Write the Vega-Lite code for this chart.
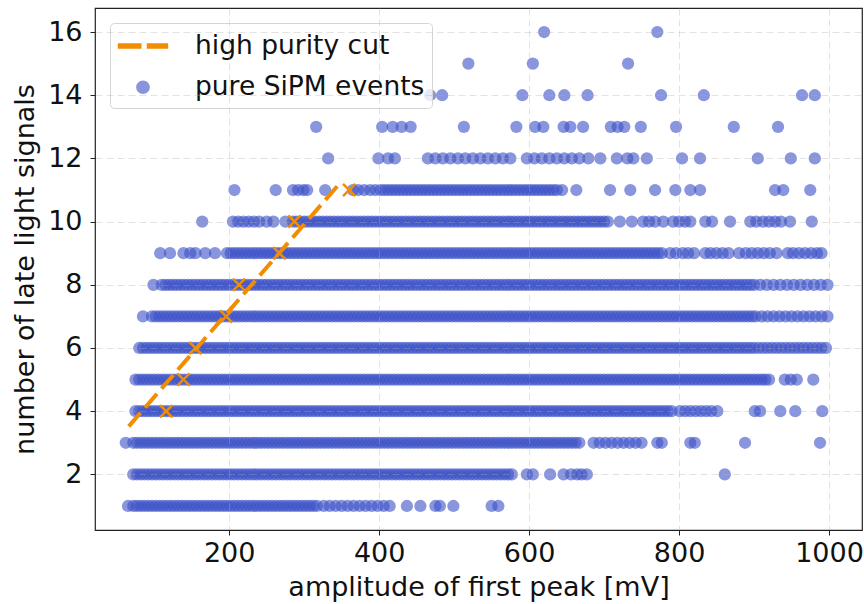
{
"$schema":"https://vega.github.io/schema/vega-lite/v6.json",
"width":767,"height":522,
"autosize":{"type":"none"},
"padding":{"left":95,"top":8,"right":2,"bottom":74},
"config":{"view":{"stroke":"#222222","strokeWidth":1.2},"font":"DejaVu Sans",
 "legend":{"orient":"none","legendX":15,"legendY":15,"padding":7,"symbolOffset":10,"labelOffset":36,"rowPadding":14,"labelLimit":600,"labelFont":"DejaVu Sans","labelFontSize":26.5,"labelColor":"#111111","fillColor":"rgba(255,255,255,0.8)","strokeColor":"#d5d5d5","cornerRadius":4}},
"datasets":{
"cut":[{"a":66,"n":3.52},{"a":347,"n":11.2}],
"marks":[{"a":116,"n":4},{"a":139,"n":5},{"a":155,"n":6},{"a":196,"n":7},{"a":213,"n":8},{"a":267,"n":9},{"a":287,"n":10},{"a":360,"n":11}],
"pts":[
{"a":65,"n":1},{"a":72,"n":1},{"a":77,"n":1},{"a":82,"n":1},{"a":87,"n":1},{"a":92,"n":1},{"a":97,"n":1},{"a":102,"n":1},{"a":107,"n":1},{"a":112,"n":1},{"a":117,"n":1},{"a":122,"n":1},{"a":127,"n":1},{"a":132,"n":1},{"a":137,"n":1},{"a":142,"n":1},{"a":147,"n":1},{"a":152,"n":1},{"a":157,"n":1},{"a":162,"n":1},{"a":167,"n":1},{"a":172,"n":1},{"a":177,"n":1},{"a":182,"n":1},{"a":187,"n":1},{"a":192,"n":1},{"a":197,"n":1},{"a":202,"n":1},{"a":207,"n":1},{"a":212,"n":1},{"a":217,"n":1},{"a":222,"n":1},{"a":227,"n":1},{"a":232,"n":1},{"a":237,"n":1},{"a":242,"n":1},{"a":247,"n":1},{"a":252,"n":1},{"a":257,"n":1},{"a":262,"n":1},{"a":267,"n":1},{"a":272,"n":1},{"a":277,"n":1},{"a":282,"n":1},{"a":287,"n":1},{"a":292,"n":1},{"a":297,"n":1},{"a":302,"n":1},{"a":307,"n":1},{"a":312,"n":1},{"a":317,"n":1},{"a":326,"n":1},{"a":334,"n":1},{"a":342,"n":1},{"a":350,"n":1},{"a":358,"n":1},{"a":366,"n":1},{"a":374,"n":1},{"a":382,"n":1},{"a":390,"n":1},{"a":398,"n":1},{"a":406,"n":1},{"a":414,"n":1},{"a":437,"n":1},{"a":455,"n":1},{"a":475,"n":1},{"a":481,"n":1},{"a":499,"n":1},{"a":550,"n":1},{"a":559,"n":1},
{"a":72,"n":2},{"a":77,"n":2},{"a":82,"n":2},{"a":87,"n":2},{"a":92,"n":2},{"a":97,"n":2},{"a":102,"n":2},{"a":107,"n":2},{"a":112,"n":2},{"a":117,"n":2},{"a":122,"n":2},{"a":127,"n":2},{"a":132,"n":2},{"a":137,"n":2},{"a":142,"n":2},{"a":147,"n":2},{"a":152,"n":2},{"a":157,"n":2},{"a":162,"n":2},{"a":167,"n":2},{"a":172,"n":2},{"a":177,"n":2},{"a":182,"n":2},{"a":187,"n":2},{"a":192,"n":2},{"a":197,"n":2},{"a":202,"n":2},{"a":207,"n":2},{"a":212,"n":2},{"a":217,"n":2},{"a":222,"n":2},{"a":227,"n":2},{"a":232,"n":2},{"a":237,"n":2},{"a":242,"n":2},{"a":247,"n":2},{"a":252,"n":2},{"a":257,"n":2},{"a":262,"n":2},{"a":267,"n":2},{"a":272,"n":2},{"a":277,"n":2},{"a":282,"n":2},{"a":287,"n":2},{"a":292,"n":2},{"a":297,"n":2},{"a":302,"n":2},{"a":307,"n":2},{"a":312,"n":2},{"a":317,"n":2},{"a":322,"n":2},{"a":327,"n":2},{"a":332,"n":2},{"a":337,"n":2},{"a":342,"n":2},{"a":347,"n":2},{"a":352,"n":2},{"a":357,"n":2},{"a":362,"n":2},{"a":367,"n":2},{"a":372,"n":2},{"a":377,"n":2},{"a":382,"n":2},{"a":387,"n":2},{"a":392,"n":2},{"a":397,"n":2},{"a":402,"n":2},{"a":407,"n":2},{"a":412,"n":2},{"a":417,"n":2},{"a":422,"n":2},{"a":427,"n":2},{"a":432,"n":2},{"a":437,"n":2},{"a":442,"n":2},{"a":447,"n":2},{"a":452,"n":2},{"a":457,"n":2},{"a":462,"n":2},{"a":467,"n":2},{"a":472,"n":2},{"a":477,"n":2},{"a":482,"n":2},{"a":487,"n":2},{"a":492,"n":2},{"a":497,"n":2},{"a":502,"n":2},{"a":507,"n":2},{"a":512,"n":2},{"a":517,"n":2},{"a":522,"n":2},{"a":527,"n":2},{"a":532,"n":2},{"a":537,"n":2},{"a":542,"n":2},{"a":547,"n":2},{"a":552,"n":2},{"a":557,"n":2},{"a":562,"n":2},{"a":567,"n":2},{"a":572,"n":2},{"a":577,"n":2},{"a":597,"n":2},{"a":605,"n":2},{"a":628,"n":2},{"a":646,"n":2},{"a":656,"n":2},{"a":664,"n":2},{"a":670,"n":2},{"a":677,"n":2},{"a":861,"n":2},
{"a":62,"n":3},{"a":72,"n":3},{"a":77,"n":3},{"a":82,"n":3},{"a":87,"n":3},{"a":92,"n":3},{"a":97,"n":3},{"a":102,"n":3},{"a":107,"n":3},{"a":112,"n":3},{"a":117,"n":3},{"a":122,"n":3},{"a":127,"n":3},{"a":132,"n":3},{"a":137,"n":3},{"a":142,"n":3},{"a":147,"n":3},{"a":152,"n":3},{"a":157,"n":3},{"a":162,"n":3},{"a":167,"n":3},{"a":172,"n":3},{"a":177,"n":3},{"a":182,"n":3},{"a":187,"n":3},{"a":192,"n":3},{"a":197,"n":3},{"a":202,"n":3},{"a":207,"n":3},{"a":212,"n":3},{"a":217,"n":3},{"a":222,"n":3},{"a":227,"n":3},{"a":232,"n":3},{"a":237,"n":3},{"a":242,"n":3},{"a":247,"n":3},{"a":252,"n":3},{"a":257,"n":3},{"a":262,"n":3},{"a":267,"n":3},{"a":272,"n":3},{"a":277,"n":3},{"a":282,"n":3},{"a":287,"n":3},{"a":292,"n":3},{"a":297,"n":3},{"a":302,"n":3},{"a":307,"n":3},{"a":312,"n":3},{"a":317,"n":3},{"a":322,"n":3},{"a":327,"n":3},{"a":332,"n":3},{"a":337,"n":3},{"a":342,"n":3},{"a":347,"n":3},{"a":352,"n":3},{"a":357,"n":3},{"a":362,"n":3},{"a":367,"n":3},{"a":372,"n":3},{"a":377,"n":3},{"a":382,"n":3},{"a":387,"n":3},{"a":392,"n":3},{"a":397,"n":3},{"a":402,"n":3},{"a":407,"n":3},{"a":412,"n":3},{"a":417,"n":3},{"a":422,"n":3},{"a":427,"n":3},{"a":432,"n":3},{"a":437,"n":3},{"a":442,"n":3},{"a":447,"n":3},{"a":452,"n":3},{"a":457,"n":3},{"a":462,"n":3},{"a":467,"n":3},{"a":472,"n":3},{"a":477,"n":3},{"a":482,"n":3},{"a":487,"n":3},{"a":492,"n":3},{"a":497,"n":3},{"a":502,"n":3},{"a":507,"n":3},{"a":512,"n":3},{"a":517,"n":3},{"a":522,"n":3},{"a":527,"n":3},{"a":532,"n":3},{"a":537,"n":3},{"a":542,"n":3},{"a":547,"n":3},{"a":552,"n":3},{"a":557,"n":3},{"a":562,"n":3},{"a":567,"n":3},{"a":572,"n":3},{"a":577,"n":3},{"a":582,"n":3},{"a":587,"n":3},{"a":592,"n":3},{"a":597,"n":3},{"a":602,"n":3},{"a":607,"n":3},{"a":612,"n":3},{"a":617,"n":3},{"a":622,"n":3},{"a":627,"n":3},{"a":632,"n":3},{"a":637,"n":3},{"a":642,"n":3},{"a":647,"n":3},{"a":652,"n":3},{"a":657,"n":3},{"a":662,"n":3},{"a":667,"n":3},{"a":686,"n":3},{"a":694,"n":3},{"a":702,"n":3},{"a":710,"n":3},{"a":718,"n":3},{"a":726,"n":3},{"a":734,"n":3},{"a":742,"n":3},{"a":750,"n":3},{"a":771,"n":3},{"a":777,"n":3},{"a":815,"n":3},{"a":821,"n":3},{"a":888,"n":3},{"a":988,"n":3},
{"a":75,"n":4},{"a":80,"n":4},{"a":85,"n":4},{"a":90,"n":4},{"a":95,"n":4},{"a":100,"n":4},{"a":105,"n":4},{"a":110,"n":4},{"a":115,"n":4},{"a":120,"n":4},{"a":125,"n":4},{"a":130,"n":4},{"a":135,"n":4},{"a":140,"n":4},{"a":145,"n":4},{"a":150,"n":4},{"a":155,"n":4},{"a":160,"n":4},{"a":165,"n":4},{"a":170,"n":4},{"a":175,"n":4},{"a":180,"n":4},{"a":185,"n":4},{"a":190,"n":4},{"a":195,"n":4},{"a":200,"n":4},{"a":205,"n":4},{"a":210,"n":4},{"a":215,"n":4},{"a":220,"n":4},{"a":225,"n":4},{"a":230,"n":4},{"a":235,"n":4},{"a":240,"n":4},{"a":245,"n":4},{"a":250,"n":4},{"a":255,"n":4},{"a":260,"n":4},{"a":265,"n":4},{"a":270,"n":4},{"a":275,"n":4},{"a":280,"n":4},{"a":285,"n":4},{"a":290,"n":4},{"a":295,"n":4},{"a":300,"n":4},{"a":305,"n":4},{"a":310,"n":4},{"a":315,"n":4},{"a":320,"n":4},{"a":325,"n":4},{"a":330,"n":4},{"a":335,"n":4},{"a":340,"n":4},{"a":345,"n":4},{"a":350,"n":4},{"a":355,"n":4},{"a":360,"n":4},{"a":365,"n":4},{"a":370,"n":4},{"a":375,"n":4},{"a":380,"n":4},{"a":385,"n":4},{"a":390,"n":4},{"a":395,"n":4},{"a":400,"n":4},{"a":405,"n":4},{"a":410,"n":4},{"a":415,"n":4},{"a":420,"n":4},{"a":425,"n":4},{"a":430,"n":4},{"a":435,"n":4},{"a":440,"n":4},{"a":445,"n":4},{"a":450,"n":4},{"a":455,"n":4},{"a":460,"n":4},{"a":465,"n":4},{"a":470,"n":4},{"a":475,"n":4},{"a":480,"n":4},{"a":485,"n":4},{"a":490,"n":4},{"a":495,"n":4},{"a":500,"n":4},{"a":505,"n":4},{"a":510,"n":4},{"a":515,"n":4},{"a":520,"n":4},{"a":525,"n":4},{"a":530,"n":4},{"a":535,"n":4},{"a":540,"n":4},{"a":545,"n":4},{"a":550,"n":4},{"a":555,"n":4},{"a":560,"n":4},{"a":565,"n":4},{"a":570,"n":4},{"a":575,"n":4},{"a":580,"n":4},{"a":585,"n":4},{"a":590,"n":4},{"a":595,"n":4},{"a":600,"n":4},{"a":605,"n":4},{"a":610,"n":4},{"a":615,"n":4},{"a":620,"n":4},{"a":625,"n":4},{"a":630,"n":4},{"a":635,"n":4},{"a":640,"n":4},{"a":645,"n":4},{"a":650,"n":4},{"a":655,"n":4},{"a":660,"n":4},{"a":665,"n":4},{"a":670,"n":4},{"a":675,"n":4},{"a":680,"n":4},{"a":685,"n":4},{"a":690,"n":4},{"a":695,"n":4},{"a":700,"n":4},{"a":705,"n":4},{"a":710,"n":4},{"a":715,"n":4},{"a":720,"n":4},{"a":725,"n":4},{"a":730,"n":4},{"a":735,"n":4},{"a":740,"n":4},{"a":745,"n":4},{"a":750,"n":4},{"a":755,"n":4},{"a":760,"n":4},{"a":765,"n":4},{"a":770,"n":4},{"a":775,"n":4},{"a":780,"n":4},{"a":785,"n":4},{"a":790,"n":4},{"a":801,"n":4},{"a":808,"n":4},{"a":815,"n":4},{"a":822,"n":4},{"a":829,"n":4},{"a":836,"n":4},{"a":843,"n":4},{"a":851,"n":4},{"a":901,"n":4},{"a":908,"n":4},{"a":935,"n":4},{"a":955,"n":4},{"a":991,"n":4},
{"a":75,"n":5},{"a":80,"n":5},{"a":85,"n":5},{"a":90,"n":5},{"a":95,"n":5},{"a":100,"n":5},{"a":105,"n":5},{"a":110,"n":5},{"a":115,"n":5},{"a":120,"n":5},{"a":125,"n":5},{"a":130,"n":5},{"a":135,"n":5},{"a":140,"n":5},{"a":145,"n":5},{"a":150,"n":5},{"a":155,"n":5},{"a":160,"n":5},{"a":165,"n":5},{"a":170,"n":5},{"a":175,"n":5},{"a":180,"n":5},{"a":185,"n":5},{"a":190,"n":5},{"a":195,"n":5},{"a":200,"n":5},{"a":205,"n":5},{"a":210,"n":5},{"a":215,"n":5},{"a":220,"n":5},{"a":225,"n":5},{"a":230,"n":5},{"a":235,"n":5},{"a":240,"n":5},{"a":245,"n":5},{"a":250,"n":5},{"a":255,"n":5},{"a":260,"n":5},{"a":265,"n":5},{"a":270,"n":5},{"a":275,"n":5},{"a":280,"n":5},{"a":285,"n":5},{"a":290,"n":5},{"a":295,"n":5},{"a":300,"n":5},{"a":305,"n":5},{"a":310,"n":5},{"a":315,"n":5},{"a":320,"n":5},{"a":325,"n":5},{"a":330,"n":5},{"a":335,"n":5},{"a":340,"n":5},{"a":345,"n":5},{"a":350,"n":5},{"a":355,"n":5},{"a":360,"n":5},{"a":365,"n":5},{"a":370,"n":5},{"a":375,"n":5},{"a":380,"n":5},{"a":385,"n":5},{"a":390,"n":5},{"a":395,"n":5},{"a":400,"n":5},{"a":405,"n":5},{"a":410,"n":5},{"a":415,"n":5},{"a":420,"n":5},{"a":425,"n":5},{"a":430,"n":5},{"a":435,"n":5},{"a":440,"n":5},{"a":445,"n":5},{"a":450,"n":5},{"a":455,"n":5},{"a":460,"n":5},{"a":465,"n":5},{"a":470,"n":5},{"a":475,"n":5},{"a":480,"n":5},{"a":485,"n":5},{"a":490,"n":5},{"a":495,"n":5},{"a":500,"n":5},{"a":505,"n":5},{"a":510,"n":5},{"a":515,"n":5},{"a":520,"n":5},{"a":525,"n":5},{"a":530,"n":5},{"a":535,"n":5},{"a":540,"n":5},{"a":545,"n":5},{"a":550,"n":5},{"a":555,"n":5},{"a":560,"n":5},{"a":565,"n":5},{"a":570,"n":5},{"a":575,"n":5},{"a":580,"n":5},{"a":585,"n":5},{"a":590,"n":5},{"a":595,"n":5},{"a":600,"n":5},{"a":605,"n":5},{"a":610,"n":5},{"a":615,"n":5},{"a":620,"n":5},{"a":625,"n":5},{"a":630,"n":5},{"a":635,"n":5},{"a":640,"n":5},{"a":645,"n":5},{"a":650,"n":5},{"a":655,"n":5},{"a":660,"n":5},{"a":665,"n":5},{"a":670,"n":5},{"a":675,"n":5},{"a":680,"n":5},{"a":685,"n":5},{"a":690,"n":5},{"a":695,"n":5},{"a":700,"n":5},{"a":705,"n":5},{"a":710,"n":5},{"a":715,"n":5},{"a":720,"n":5},{"a":725,"n":5},{"a":730,"n":5},{"a":735,"n":5},{"a":740,"n":5},{"a":745,"n":5},{"a":750,"n":5},{"a":755,"n":5},{"a":760,"n":5},{"a":765,"n":5},{"a":770,"n":5},{"a":775,"n":5},{"a":780,"n":5},{"a":785,"n":5},{"a":790,"n":5},{"a":795,"n":5},{"a":800,"n":5},{"a":805,"n":5},{"a":810,"n":5},{"a":815,"n":5},{"a":820,"n":5},{"a":825,"n":5},{"a":830,"n":5},{"a":835,"n":5},{"a":840,"n":5},{"a":845,"n":5},{"a":850,"n":5},{"a":855,"n":5},{"a":860,"n":5},{"a":865,"n":5},{"a":870,"n":5},{"a":875,"n":5},{"a":880,"n":5},{"a":885,"n":5},{"a":890,"n":5},{"a":895,"n":5},{"a":900,"n":5},{"a":905,"n":5},{"a":910,"n":5},{"a":915,"n":5},{"a":920,"n":5},{"a":941,"n":5},{"a":949,"n":5},{"a":957,"n":5},{"a":979,"n":5},
{"a":80,"n":6},{"a":85,"n":6},{"a":90,"n":6},{"a":95,"n":6},{"a":100,"n":6},{"a":105,"n":6},{"a":110,"n":6},{"a":115,"n":6},{"a":120,"n":6},{"a":125,"n":6},{"a":130,"n":6},{"a":135,"n":6},{"a":140,"n":6},{"a":145,"n":6},{"a":150,"n":6},{"a":155,"n":6},{"a":160,"n":6},{"a":165,"n":6},{"a":170,"n":6},{"a":175,"n":6},{"a":180,"n":6},{"a":185,"n":6},{"a":190,"n":6},{"a":195,"n":6},{"a":200,"n":6},{"a":205,"n":6},{"a":210,"n":6},{"a":215,"n":6},{"a":220,"n":6},{"a":225,"n":6},{"a":230,"n":6},{"a":235,"n":6},{"a":240,"n":6},{"a":245,"n":6},{"a":250,"n":6},{"a":255,"n":6},{"a":260,"n":6},{"a":265,"n":6},{"a":270,"n":6},{"a":275,"n":6},{"a":280,"n":6},{"a":285,"n":6},{"a":290,"n":6},{"a":295,"n":6},{"a":300,"n":6},{"a":305,"n":6},{"a":310,"n":6},{"a":315,"n":6},{"a":320,"n":6},{"a":325,"n":6},{"a":330,"n":6},{"a":335,"n":6},{"a":340,"n":6},{"a":345,"n":6},{"a":350,"n":6},{"a":355,"n":6},{"a":360,"n":6},{"a":365,"n":6},{"a":370,"n":6},{"a":375,"n":6},{"a":380,"n":6},{"a":385,"n":6},{"a":390,"n":6},{"a":395,"n":6},{"a":400,"n":6},{"a":405,"n":6},{"a":410,"n":6},{"a":415,"n":6},{"a":420,"n":6},{"a":425,"n":6},{"a":430,"n":6},{"a":435,"n":6},{"a":440,"n":6},{"a":445,"n":6},{"a":450,"n":6},{"a":455,"n":6},{"a":460,"n":6},{"a":465,"n":6},{"a":470,"n":6},{"a":475,"n":6},{"a":480,"n":6},{"a":485,"n":6},{"a":490,"n":6},{"a":495,"n":6},{"a":500,"n":6},{"a":505,"n":6},{"a":510,"n":6},{"a":515,"n":6},{"a":520,"n":6},{"a":525,"n":6},{"a":530,"n":6},{"a":535,"n":6},{"a":540,"n":6},{"a":545,"n":6},{"a":550,"n":6},{"a":555,"n":6},{"a":560,"n":6},{"a":565,"n":6},{"a":570,"n":6},{"a":575,"n":6},{"a":580,"n":6},{"a":585,"n":6},{"a":590,"n":6},{"a":595,"n":6},{"a":600,"n":6},{"a":605,"n":6},{"a":610,"n":6},{"a":615,"n":6},{"a":620,"n":6},{"a":625,"n":6},{"a":630,"n":6},{"a":635,"n":6},{"a":640,"n":6},{"a":645,"n":6},{"a":650,"n":6},{"a":655,"n":6},{"a":660,"n":6},{"a":665,"n":6},{"a":670,"n":6},{"a":675,"n":6},{"a":680,"n":6},{"a":685,"n":6},{"a":690,"n":6},{"a":695,"n":6},{"a":700,"n":6},{"a":705,"n":6},{"a":710,"n":6},{"a":715,"n":6},{"a":720,"n":6},{"a":725,"n":6},{"a":730,"n":6},{"a":735,"n":6},{"a":740,"n":6},{"a":745,"n":6},{"a":750,"n":6},{"a":755,"n":6},{"a":760,"n":6},{"a":765,"n":6},{"a":770,"n":6},{"a":775,"n":6},{"a":780,"n":6},{"a":785,"n":6},{"a":790,"n":6},{"a":795,"n":6},{"a":800,"n":6},{"a":805,"n":6},{"a":810,"n":6},{"a":815,"n":6},{"a":820,"n":6},{"a":825,"n":6},{"a":830,"n":6},{"a":835,"n":6},{"a":840,"n":6},{"a":845,"n":6},{"a":850,"n":6},{"a":855,"n":6},{"a":860,"n":6},{"a":865,"n":6},{"a":870,"n":6},{"a":875,"n":6},{"a":880,"n":6},{"a":885,"n":6},{"a":890,"n":6},{"a":895,"n":6},{"a":900,"n":6},{"a":906,"n":6},{"a":912,"n":6},{"a":918,"n":6},{"a":924,"n":6},{"a":930,"n":6},{"a":936,"n":6},{"a":942,"n":6},{"a":948,"n":6},{"a":954,"n":6},{"a":960,"n":6},{"a":966,"n":6},{"a":972,"n":6},{"a":978,"n":6},{"a":984,"n":6},{"a":990,"n":6},{"a":996,"n":6},
{"a":85,"n":7},{"a":97,"n":7},{"a":102,"n":7},{"a":107,"n":7},{"a":112,"n":7},{"a":117,"n":7},{"a":122,"n":7},{"a":127,"n":7},{"a":132,"n":7},{"a":137,"n":7},{"a":142,"n":7},{"a":147,"n":7},{"a":152,"n":7},{"a":157,"n":7},{"a":162,"n":7},{"a":167,"n":7},{"a":172,"n":7},{"a":177,"n":7},{"a":182,"n":7},{"a":187,"n":7},{"a":192,"n":7},{"a":197,"n":7},{"a":202,"n":7},{"a":207,"n":7},{"a":212,"n":7},{"a":217,"n":7},{"a":222,"n":7},{"a":227,"n":7},{"a":232,"n":7},{"a":237,"n":7},{"a":242,"n":7},{"a":247,"n":7},{"a":252,"n":7},{"a":257,"n":7},{"a":262,"n":7},{"a":267,"n":7},{"a":272,"n":7},{"a":277,"n":7},{"a":282,"n":7},{"a":287,"n":7},{"a":292,"n":7},{"a":297,"n":7},{"a":302,"n":7},{"a":307,"n":7},{"a":312,"n":7},{"a":317,"n":7},{"a":322,"n":7},{"a":327,"n":7},{"a":332,"n":7},{"a":337,"n":7},{"a":342,"n":7},{"a":347,"n":7},{"a":352,"n":7},{"a":357,"n":7},{"a":362,"n":7},{"a":367,"n":7},{"a":372,"n":7},{"a":377,"n":7},{"a":382,"n":7},{"a":387,"n":7},{"a":392,"n":7},{"a":397,"n":7},{"a":402,"n":7},{"a":407,"n":7},{"a":412,"n":7},{"a":417,"n":7},{"a":422,"n":7},{"a":427,"n":7},{"a":432,"n":7},{"a":437,"n":7},{"a":442,"n":7},{"a":447,"n":7},{"a":452,"n":7},{"a":457,"n":7},{"a":462,"n":7},{"a":467,"n":7},{"a":472,"n":7},{"a":477,"n":7},{"a":482,"n":7},{"a":487,"n":7},{"a":492,"n":7},{"a":497,"n":7},{"a":502,"n":7},{"a":507,"n":7},{"a":512,"n":7},{"a":517,"n":7},{"a":522,"n":7},{"a":527,"n":7},{"a":532,"n":7},{"a":537,"n":7},{"a":542,"n":7},{"a":547,"n":7},{"a":552,"n":7},{"a":557,"n":7},{"a":562,"n":7},{"a":567,"n":7},{"a":572,"n":7},{"a":577,"n":7},{"a":582,"n":7},{"a":587,"n":7},{"a":592,"n":7},{"a":597,"n":7},{"a":602,"n":7},{"a":607,"n":7},{"a":612,"n":7},{"a":617,"n":7},{"a":622,"n":7},{"a":627,"n":7},{"a":632,"n":7},{"a":637,"n":7},{"a":642,"n":7},{"a":647,"n":7},{"a":652,"n":7},{"a":657,"n":7},{"a":662,"n":7},{"a":667,"n":7},{"a":672,"n":7},{"a":677,"n":7},{"a":682,"n":7},{"a":687,"n":7},{"a":692,"n":7},{"a":697,"n":7},{"a":702,"n":7},{"a":707,"n":7},{"a":712,"n":7},{"a":717,"n":7},{"a":722,"n":7},{"a":727,"n":7},{"a":732,"n":7},{"a":737,"n":7},{"a":742,"n":7},{"a":747,"n":7},{"a":752,"n":7},{"a":757,"n":7},{"a":762,"n":7},{"a":767,"n":7},{"a":772,"n":7},{"a":777,"n":7},{"a":782,"n":7},{"a":787,"n":7},{"a":792,"n":7},{"a":797,"n":7},{"a":802,"n":7},{"a":807,"n":7},{"a":812,"n":7},{"a":817,"n":7},{"a":822,"n":7},{"a":827,"n":7},{"a":832,"n":7},{"a":837,"n":7},{"a":842,"n":7},{"a":847,"n":7},{"a":852,"n":7},{"a":857,"n":7},{"a":862,"n":7},{"a":867,"n":7},{"a":872,"n":7},{"a":877,"n":7},{"a":882,"n":7},{"a":887,"n":7},{"a":892,"n":7},{"a":897,"n":7},{"a":902,"n":7},{"a":910,"n":7},{"a":918,"n":7},{"a":926,"n":7},{"a":934,"n":7},{"a":942,"n":7},{"a":950,"n":7},{"a":958,"n":7},{"a":966,"n":7},{"a":974,"n":7},{"a":982,"n":7},{"a":990,"n":7},{"a":998,"n":7},
{"a":99,"n":8},{"a":110,"n":8},{"a":115,"n":8},{"a":120,"n":8},{"a":125,"n":8},{"a":130,"n":8},{"a":135,"n":8},{"a":140,"n":8},{"a":145,"n":8},{"a":150,"n":8},{"a":155,"n":8},{"a":160,"n":8},{"a":165,"n":8},{"a":170,"n":8},{"a":175,"n":8},{"a":180,"n":8},{"a":185,"n":8},{"a":190,"n":8},{"a":195,"n":8},{"a":200,"n":8},{"a":205,"n":8},{"a":210,"n":8},{"a":215,"n":8},{"a":220,"n":8},{"a":225,"n":8},{"a":230,"n":8},{"a":235,"n":8},{"a":240,"n":8},{"a":245,"n":8},{"a":250,"n":8},{"a":255,"n":8},{"a":260,"n":8},{"a":265,"n":8},{"a":270,"n":8},{"a":275,"n":8},{"a":280,"n":8},{"a":285,"n":8},{"a":290,"n":8},{"a":295,"n":8},{"a":300,"n":8},{"a":305,"n":8},{"a":310,"n":8},{"a":315,"n":8},{"a":320,"n":8},{"a":325,"n":8},{"a":330,"n":8},{"a":335,"n":8},{"a":340,"n":8},{"a":345,"n":8},{"a":350,"n":8},{"a":355,"n":8},{"a":360,"n":8},{"a":365,"n":8},{"a":370,"n":8},{"a":375,"n":8},{"a":380,"n":8},{"a":385,"n":8},{"a":390,"n":8},{"a":395,"n":8},{"a":400,"n":8},{"a":405,"n":8},{"a":410,"n":8},{"a":415,"n":8},{"a":420,"n":8},{"a":425,"n":8},{"a":430,"n":8},{"a":435,"n":8},{"a":440,"n":8},{"a":445,"n":8},{"a":450,"n":8},{"a":455,"n":8},{"a":460,"n":8},{"a":465,"n":8},{"a":470,"n":8},{"a":475,"n":8},{"a":480,"n":8},{"a":485,"n":8},{"a":490,"n":8},{"a":495,"n":8},{"a":500,"n":8},{"a":505,"n":8},{"a":510,"n":8},{"a":515,"n":8},{"a":520,"n":8},{"a":525,"n":8},{"a":530,"n":8},{"a":535,"n":8},{"a":540,"n":8},{"a":545,"n":8},{"a":550,"n":8},{"a":555,"n":8},{"a":560,"n":8},{"a":565,"n":8},{"a":570,"n":8},{"a":575,"n":8},{"a":580,"n":8},{"a":585,"n":8},{"a":590,"n":8},{"a":595,"n":8},{"a":600,"n":8},{"a":605,"n":8},{"a":610,"n":8},{"a":615,"n":8},{"a":620,"n":8},{"a":625,"n":8},{"a":630,"n":8},{"a":635,"n":8},{"a":640,"n":8},{"a":645,"n":8},{"a":650,"n":8},{"a":655,"n":8},{"a":660,"n":8},{"a":665,"n":8},{"a":670,"n":8},{"a":675,"n":8},{"a":680,"n":8},{"a":685,"n":8},{"a":690,"n":8},{"a":695,"n":8},{"a":700,"n":8},{"a":705,"n":8},{"a":710,"n":8},{"a":715,"n":8},{"a":720,"n":8},{"a":725,"n":8},{"a":730,"n":8},{"a":735,"n":8},{"a":740,"n":8},{"a":745,"n":8},{"a":750,"n":8},{"a":755,"n":8},{"a":760,"n":8},{"a":765,"n":8},{"a":770,"n":8},{"a":775,"n":8},{"a":780,"n":8},{"a":785,"n":8},{"a":790,"n":8},{"a":795,"n":8},{"a":800,"n":8},{"a":805,"n":8},{"a":810,"n":8},{"a":815,"n":8},{"a":820,"n":8},{"a":825,"n":8},{"a":830,"n":8},{"a":835,"n":8},{"a":840,"n":8},{"a":845,"n":8},{"a":850,"n":8},{"a":855,"n":8},{"a":860,"n":8},{"a":865,"n":8},{"a":870,"n":8},{"a":875,"n":8},{"a":880,"n":8},{"a":885,"n":8},{"a":890,"n":8},{"a":895,"n":8},{"a":900,"n":8},{"a":908,"n":8},{"a":917,"n":8},{"a":926,"n":8},{"a":935,"n":8},{"a":944,"n":8},{"a":953,"n":8},{"a":962,"n":8},{"a":971,"n":8},{"a":980,"n":8},{"a":989,"n":8},{"a":998,"n":8},
{"a":108,"n":9},{"a":121,"n":9},{"a":139,"n":9},{"a":148,"n":9},{"a":155,"n":9},{"a":168,"n":9},{"a":181,"n":9},{"a":197,"n":9},{"a":202,"n":9},{"a":207,"n":9},{"a":212,"n":9},{"a":217,"n":9},{"a":222,"n":9},{"a":227,"n":9},{"a":232,"n":9},{"a":237,"n":9},{"a":242,"n":9},{"a":247,"n":9},{"a":252,"n":9},{"a":257,"n":9},{"a":262,"n":9},{"a":267,"n":9},{"a":272,"n":9},{"a":277,"n":9},{"a":282,"n":9},{"a":287,"n":9},{"a":292,"n":9},{"a":297,"n":9},{"a":302,"n":9},{"a":307,"n":9},{"a":312,"n":9},{"a":317,"n":9},{"a":322,"n":9},{"a":327,"n":9},{"a":332,"n":9},{"a":337,"n":9},{"a":342,"n":9},{"a":347,"n":9},{"a":352,"n":9},{"a":357,"n":9},{"a":362,"n":9},{"a":367,"n":9},{"a":372,"n":9},{"a":377,"n":9},{"a":382,"n":9},{"a":387,"n":9},{"a":392,"n":9},{"a":397,"n":9},{"a":402,"n":9},{"a":407,"n":9},{"a":412,"n":9},{"a":417,"n":9},{"a":422,"n":9},{"a":427,"n":9},{"a":432,"n":9},{"a":437,"n":9},{"a":442,"n":9},{"a":447,"n":9},{"a":452,"n":9},{"a":457,"n":9},{"a":462,"n":9},{"a":467,"n":9},{"a":472,"n":9},{"a":477,"n":9},{"a":482,"n":9},{"a":487,"n":9},{"a":492,"n":9},{"a":497,"n":9},{"a":502,"n":9},{"a":507,"n":9},{"a":512,"n":9},{"a":517,"n":9},{"a":522,"n":9},{"a":527,"n":9},{"a":532,"n":9},{"a":537,"n":9},{"a":542,"n":9},{"a":547,"n":9},{"a":552,"n":9},{"a":557,"n":9},{"a":562,"n":9},{"a":567,"n":9},{"a":572,"n":9},{"a":577,"n":9},{"a":582,"n":9},{"a":587,"n":9},{"a":592,"n":9},{"a":597,"n":9},{"a":602,"n":9},{"a":607,"n":9},{"a":612,"n":9},{"a":617,"n":9},{"a":622,"n":9},{"a":627,"n":9},{"a":632,"n":9},{"a":637,"n":9},{"a":642,"n":9},{"a":647,"n":9},{"a":652,"n":9},{"a":657,"n":9},{"a":662,"n":9},{"a":667,"n":9},{"a":672,"n":9},{"a":677,"n":9},{"a":682,"n":9},{"a":687,"n":9},{"a":692,"n":9},{"a":697,"n":9},{"a":702,"n":9},{"a":707,"n":9},{"a":712,"n":9},{"a":717,"n":9},{"a":722,"n":9},{"a":727,"n":9},{"a":732,"n":9},{"a":737,"n":9},{"a":742,"n":9},{"a":747,"n":9},{"a":752,"n":9},{"a":757,"n":9},{"a":762,"n":9},{"a":767,"n":9},{"a":772,"n":9},{"a":777,"n":9},{"a":788,"n":9},{"a":796,"n":9},{"a":805,"n":9},{"a":812,"n":9},{"a":820,"n":9},{"a":835,"n":9},{"a":842,"n":9},{"a":850,"n":9},{"a":858,"n":9},{"a":866,"n":9},{"a":880,"n":9},{"a":889,"n":9},{"a":897,"n":9},{"a":905,"n":9},{"a":913,"n":9},{"a":921,"n":9},{"a":930,"n":9},{"a":945,"n":9},{"a":952,"n":9},{"a":960,"n":9},{"a":968,"n":9},{"a":976,"n":9},{"a":984,"n":9},{"a":990,"n":9},
{"a":164,"n":10},{"a":205,"n":10},{"a":212,"n":10},{"a":219,"n":10},{"a":226,"n":10},{"a":233,"n":10},{"a":240,"n":10},{"a":250,"n":10},{"a":259,"n":10},{"a":275,"n":10},{"a":285,"n":10},{"a":290,"n":10},{"a":295,"n":10},{"a":300,"n":10},{"a":305,"n":10},{"a":310,"n":10},{"a":315,"n":10},{"a":320,"n":10},{"a":325,"n":10},{"a":330,"n":10},{"a":335,"n":10},{"a":340,"n":10},{"a":345,"n":10},{"a":350,"n":10},{"a":355,"n":10},{"a":360,"n":10},{"a":365,"n":10},{"a":370,"n":10},{"a":375,"n":10},{"a":380,"n":10},{"a":385,"n":10},{"a":390,"n":10},{"a":395,"n":10},{"a":400,"n":10},{"a":405,"n":10},{"a":410,"n":10},{"a":415,"n":10},{"a":420,"n":10},{"a":425,"n":10},{"a":430,"n":10},{"a":435,"n":10},{"a":440,"n":10},{"a":445,"n":10},{"a":450,"n":10},{"a":455,"n":10},{"a":460,"n":10},{"a":465,"n":10},{"a":470,"n":10},{"a":475,"n":10},{"a":480,"n":10},{"a":485,"n":10},{"a":490,"n":10},{"a":495,"n":10},{"a":500,"n":10},{"a":505,"n":10},{"a":510,"n":10},{"a":515,"n":10},{"a":520,"n":10},{"a":525,"n":10},{"a":530,"n":10},{"a":535,"n":10},{"a":540,"n":10},{"a":545,"n":10},{"a":550,"n":10},{"a":555,"n":10},{"a":560,"n":10},{"a":565,"n":10},{"a":570,"n":10},{"a":575,"n":10},{"a":580,"n":10},{"a":585,"n":10},{"a":590,"n":10},{"a":595,"n":10},{"a":600,"n":10},{"a":605,"n":10},{"a":610,"n":10},{"a":615,"n":10},{"a":620,"n":10},{"a":625,"n":10},{"a":630,"n":10},{"a":635,"n":10},{"a":640,"n":10},{"a":645,"n":10},{"a":650,"n":10},{"a":655,"n":10},{"a":660,"n":10},{"a":665,"n":10},{"a":670,"n":10},{"a":675,"n":10},{"a":680,"n":10},{"a":685,"n":10},{"a":690,"n":10},{"a":695,"n":10},{"a":700,"n":10},{"a":705,"n":10},{"a":721,"n":10},{"a":737,"n":10},{"a":752,"n":10},{"a":760,"n":10},{"a":768,"n":10},{"a":779,"n":10},{"a":792,"n":10},{"a":800,"n":10},{"a":808,"n":10},{"a":815,"n":10},{"a":835,"n":10},{"a":844,"n":10},{"a":868,"n":10},{"a":895,"n":10},{"a":903,"n":10},{"a":912,"n":10},{"a":920,"n":10},{"a":928,"n":10},{"a":936,"n":10},{"a":948,"n":10},{"a":977,"n":10},
{"a":207,"n":11},{"a":262,"n":11},{"a":285,"n":11},{"a":292,"n":11},{"a":299,"n":11},{"a":304,"n":11},{"a":328,"n":11},{"a":365,"n":11},{"a":372,"n":11},{"a":380,"n":11},{"a":388,"n":11},{"a":395,"n":11},{"a":402,"n":11},{"a":407,"n":11},{"a":412,"n":11},{"a":417,"n":11},{"a":422,"n":11},{"a":427,"n":11},{"a":432,"n":11},{"a":437,"n":11},{"a":442,"n":11},{"a":447,"n":11},{"a":452,"n":11},{"a":457,"n":11},{"a":462,"n":11},{"a":467,"n":11},{"a":472,"n":11},{"a":477,"n":11},{"a":482,"n":11},{"a":487,"n":11},{"a":492,"n":11},{"a":497,"n":11},{"a":502,"n":11},{"a":507,"n":11},{"a":512,"n":11},{"a":517,"n":11},{"a":522,"n":11},{"a":527,"n":11},{"a":532,"n":11},{"a":537,"n":11},{"a":542,"n":11},{"a":547,"n":11},{"a":552,"n":11},{"a":557,"n":11},{"a":562,"n":11},{"a":567,"n":11},{"a":572,"n":11},{"a":577,"n":11},{"a":582,"n":11},{"a":587,"n":11},{"a":592,"n":11},{"a":597,"n":11},{"a":602,"n":11},{"a":607,"n":11},{"a":612,"n":11},{"a":617,"n":11},{"a":622,"n":11},{"a":627,"n":11},{"a":632,"n":11},{"a":637,"n":11},{"a":644,"n":11},{"a":663,"n":11},{"a":708,"n":11},{"a":735,"n":11},{"a":768,"n":11},{"a":795,"n":11},{"a":815,"n":11},{"a":828,"n":11},{"a":928,"n":11},{"a":939,"n":11},{"a":975,"n":11},
{"a":332,"n":12},{"a":399,"n":12},{"a":412,"n":12},{"a":421,"n":12},{"a":465,"n":12},{"a":475,"n":12},{"a":485,"n":12},{"a":495,"n":12},{"a":505,"n":12},{"a":515,"n":12},{"a":525,"n":12},{"a":535,"n":12},{"a":545,"n":12},{"a":555,"n":12},{"a":565,"n":12},{"a":575,"n":12},{"a":597,"n":12},{"a":607,"n":12},{"a":617,"n":12},{"a":627,"n":12},{"a":637,"n":12},{"a":647,"n":12},{"a":657,"n":12},{"a":667,"n":12},{"a":679,"n":12},{"a":695,"n":12},{"a":717,"n":12},{"a":731,"n":12},{"a":739,"n":12},{"a":757,"n":12},{"a":804,"n":12},{"a":828,"n":12},{"a":905,"n":12},{"a":949,"n":12},{"a":981,"n":12},
{"a":316,"n":13},{"a":404,"n":13},{"a":418,"n":13},{"a":430,"n":13},{"a":442,"n":13},{"a":513,"n":13},{"a":583,"n":13},{"a":608,"n":13},{"a":619,"n":13},{"a":646,"n":13},{"a":655,"n":13},{"a":672,"n":13},{"a":709,"n":13},{"a":718,"n":13},{"a":727,"n":13},{"a":749,"n":13},{"a":796,"n":13},{"a":873,"n":13},{"a":932,"n":13},
{"a":468,"n":14},{"a":484,"n":14},{"a":591,"n":14},{"a":627,"n":14},{"a":647,"n":14},{"a":678,"n":14},{"a":776,"n":14},{"a":833,"n":14},{"a":964,"n":14},{"a":981,"n":14},
{"a":519,"n":15},{"a":605,"n":15},{"a":732,"n":15},
{"a":620,"n":16},{"a":771,"n":16}
]},
"layer":[
{"data":{"name":"pts"},
 "mark":{"type":"point","filled":true,"strokeWidth":0},
 "encoding":{
  "x":{"field":"a","type":"quantitative","scale":{"domain":[21,1044],"nice":false,"zero":false},
   "axis":{"title":"amplitude of first peak [mV]","values":[200,400,600,800,1000],"format":"d","grid":true,"gridDash":[7,4],"gridColor":"#b0b0b0","gridOpacity":0.35,"domain":false,"tickColor":"#222222","tickSize":5,"labelFontSize":27,"titleFontSize":27,"labelPadding":5,"titlePadding":8,"labelFont":"DejaVu Sans","titleFont":"DejaVu Sans","labelColor":"#111111","titleColor":"#111111","titleFontWeight":"normal","zindex":1}},
  "y":{"field":"n","type":"quantitative","scale":{"domain":[0.24,16.76],"nice":false,"zero":false},
   "axis":{"title":"number of late light signals","values":[2,4,6,8,10,12,14,16],"format":"d","grid":true,"gridDash":[7,4],"gridColor":"#b0b0b0","gridOpacity":0.35,"domain":false,"tickColor":"#222222","tickSize":5,"labelFontSize":27,"titleFontSize":27,"labelPadding":8,"titlePadding":8,"labelFont":"DejaVu Sans","titleFont":"DejaVu Sans","labelColor":"#111111","titleColor":"#111111","titleFontWeight":"normal","zindex":1}},
  "color":{"datum":"pure SiPM events","type":"nominal","scale":{"domain":["high purity cut","pure SiPM events"],"range":["#f28c00","#3a50c6"]},
   "legend":{"title":null,"orient":"none","legendX":15,"legendY":15}},
  "shape":{"datum":"pure SiPM events","type":"nominal","scale":{"domain":["high purity cut","pure SiPM events"],"range":["M-1.63,-0.13H-0.15V0.13H-1.63Z M0.3,-0.13H1.63V0.13H0.3Z","circle"]},
   "legend":{"title":null,"orient":"none","legendX":15,"legendY":15}},
  "size":{"datum":"pure SiPM events","type":"nominal","scale":{"type":"point","domain":["high purity cut","pure SiPM events"],"range":[900,150],"padding":0},
   "legend":{"title":null,"orient":"none","legendX":15,"legendY":15}},
  "opacity":{"datum":"pure SiPM events","type":"nominal","scale":{"type":"point","domain":["high purity cut","pure SiPM events"],"range":[1,0.6],"padding":0},
   "legend":{"title":null,"orient":"none","legendX":15,"legendY":15}}
 }},
{"data":{"name":"cut"},
 "mark":{"type":"line","strokeDash":[18,7],"strokeWidth":4,"strokeCap":"butt"},
 "encoding":{"x":{"field":"a","type":"quantitative"},"y":{"field":"n","type":"quantitative"},"color":{"datum":"high purity cut","type":"nominal"},"opacity":{"datum":"high purity cut","type":"nominal"}}},
{"data":{"name":"marks"},
 "mark":{"type":"point","shape":"M-1,-1L1,1M-1,1L1,-1","filled":false,"strokeWidth":2.5,"size":150,"color":"#f28c00","opacity":1},
 "encoding":{"x":{"field":"a","type":"quantitative"},"y":{"field":"n","type":"quantitative"}}}
]
}
